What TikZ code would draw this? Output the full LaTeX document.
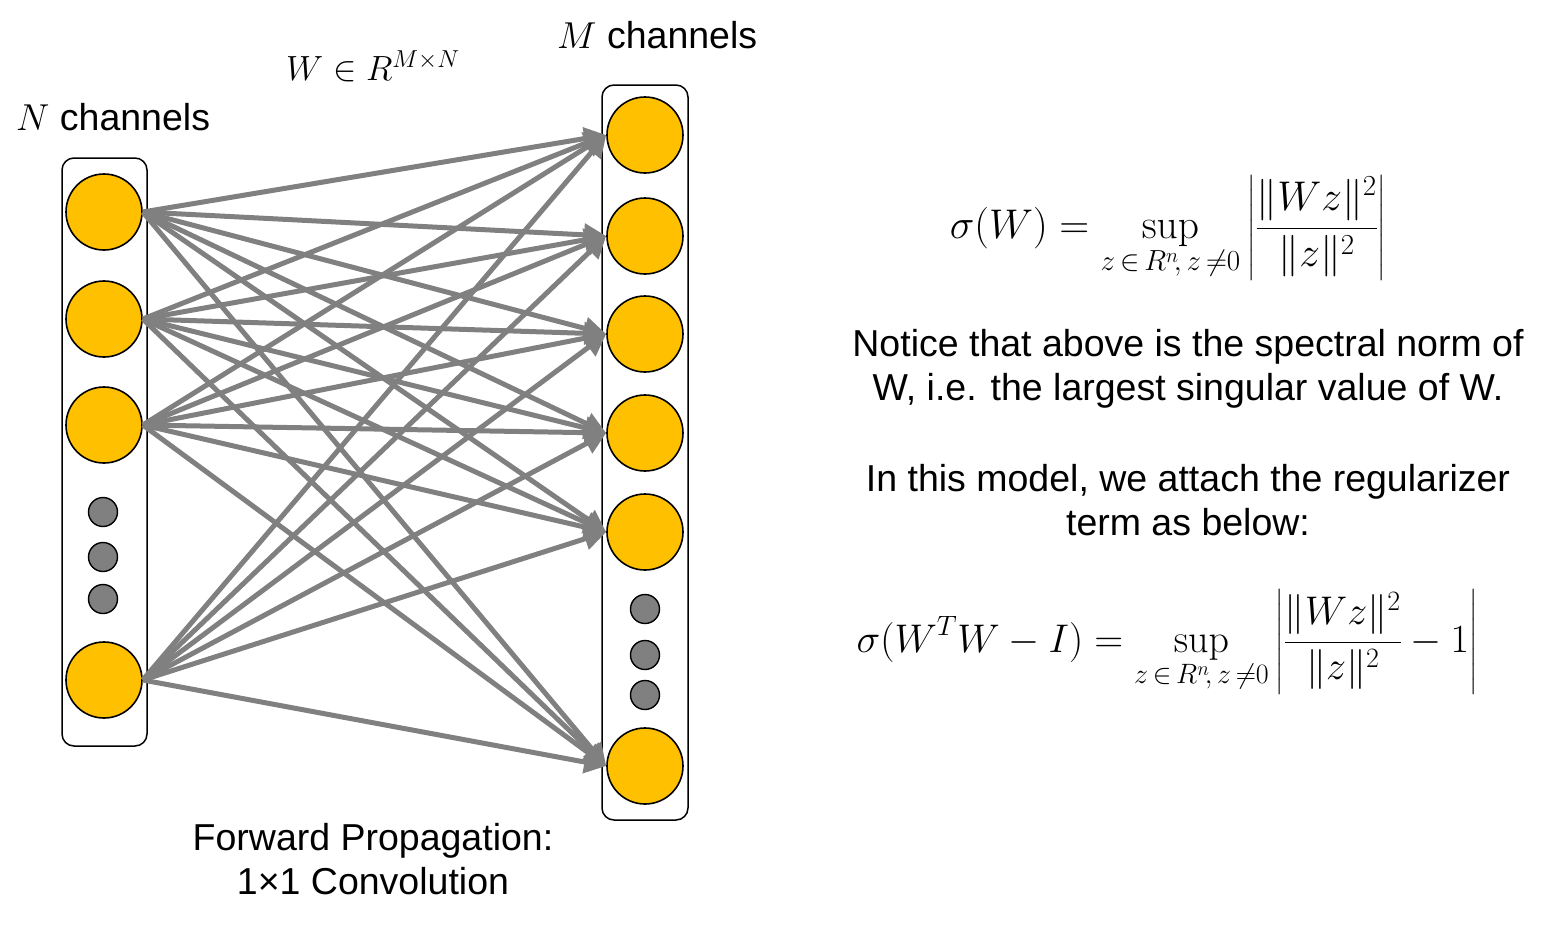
\RequirePackage{fix-cm}
\documentclass[tikz,border=0pt]{standalone}
\usepackage{amsmath}
\usepackage[no-math]{fontspec}
\setmainfont{Liberation Sans}
\usetikzlibrary{arrows.meta}
\definecolor{nodeyellow}{HTML}{FFC000}
\definecolor{linegray}{HTML}{808080}
\tikzset{
  bignode/.style={circle, draw=black, line width=1.6pt, fill=nodeyellow, minimum size=76pt, inner sep=0pt},
  dotnode/.style={circle, draw=black, line width=1.4pt, fill=linegray, minimum size=29pt, inner sep=0pt},
  column/.style={draw=black, line width=1.5pt, rounded corners=12pt, inner sep=0pt},
  link/.style={draw=linegray, line width=5pt, -{Triangle[length=22pt,width=22pt]}},
  txt/.style={font=\fontsize{37.5}{44}\selectfont, inner sep=0pt},
  eqtxt/.style={font=\fontsize{41.5}{48}\selectfont, inner sep=0pt},
}
\begin{document}
\begin{tikzpicture}[x=1pt,y=-1pt]
\useasboundingbox (0,0) rectangle (1558,927);
% columns
\node[column, minimum width=85pt, minimum height=588pt] (lbox) at (104.5,452) {};
\node[column, minimum width=86pt, minimum height=735pt] (rbox) at (645,452.5) {};
% left nodes
\node[bignode] (l1) at (104,212) {};
\node[bignode] (l2) at (104,319) {};
\node[bignode] (l3) at (104,425) {};
\node[bignode] (l4) at (104,680) {};
\node[dotnode] (ld1) at (103,512) {};
\node[dotnode] (ld2) at (103,557) {};
\node[dotnode] (ld3) at (103,599) {};
% right nodes
\node[bignode] (r1) at (645,135) {};
\node[bignode] (r2) at (645,236) {};
\node[bignode] (r3) at (645,334) {};
\node[bignode] (r4) at (645,433) {};
\node[bignode] (r5) at (645,532) {};
\node[bignode] (r6) at (645,766) {};
\node[dotnode] (rd1) at (645,609) {};
\node[dotnode] (rd2) at (645,655) {};
\node[dotnode] (rd3) at (645,695) {};
% links
\foreach \i in {1,2,3,4}{
  \foreach \j in {1,...,6}{
    \draw[link] (l\i.east) -- (r\j.west);
  }
}
% labels
\node[txt, anchor=base west] (nch) at (16,130) {$N$ channels};
\node[txt, anchor=base west] (mch) at (557,48) {$M$ channels};
\node[txt, anchor=base west, font=\fontsize{35}{40}\selectfont] (wdef) at (286,80) {$W\in R^{M\times N}$};
\node[txt, align=center, anchor=base] (fwd) at (373,894) {Forward Propagation:\\1×1 Convolution};
\node[txt, align=center, anchor=base] (note1) at (1188,400) {Notice that above is the spectral norm of\\W, i.e. the largest singular value of W.};
\node[txt, align=center, anchor=base] (note2) at (1188,535) {In this model, we attach the regularizer\\term as below:};
\node[eqtxt] (eq1) at (1168,228) {$\displaystyle \sigma(W) = \sup_{z\,\in\, R^n\!,\,z\,\neq 0}\left|\frac{\|Wz\|^2}{\|z\|^2}\right|$};
\node[eqtxt, font=\fontsize{40}{46}\selectfont] (eq2) at (1167,642) {$\displaystyle \sigma(W^TW-I) = \sup_{z\,\in\, R^n\!,\,z\,\neq 0}\left|\frac{\|Wz\|^2}{\|z\|^2}-1\right|$};
\end{tikzpicture}
\end{document}
